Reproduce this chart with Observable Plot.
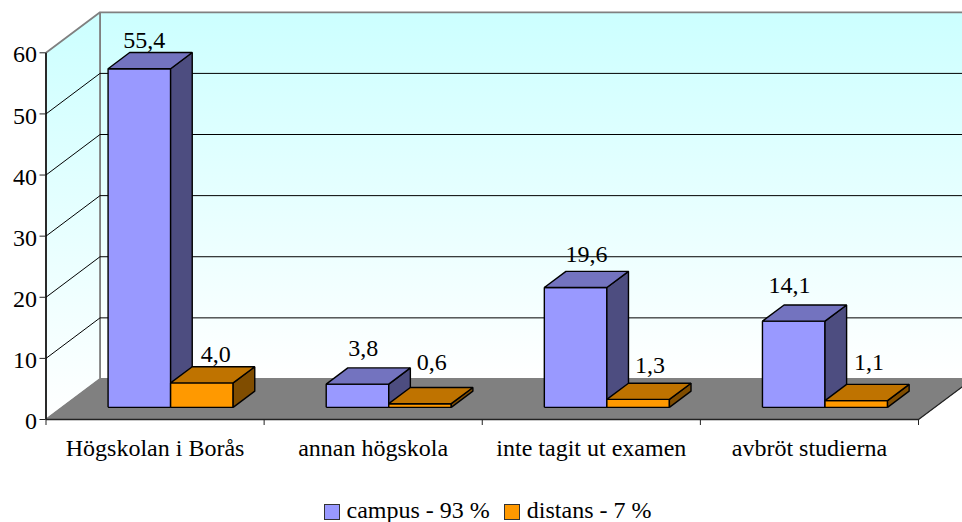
<!DOCTYPE html>
<html>
<head>
<meta charset="utf-8">
<script src="https://cdn.jsdelivr.net/npm/d3@7"></script>
<script src="https://cdn.jsdelivr.net/npm/@observablehq/plot@0.6"></script>
<style>
html,body{margin:0;padding:0;background:#fff;overflow:hidden;width:962px;height:522px}
#legend{height:42px;display:flex;align-items:center;justify-content:center;font:24px "Liberation Serif",serif;color:#000;padding-left:13px;box-sizing:border-box;padding-top:19px}
#legend i{display:inline-block;width:14px;height:14px;border:1.2px solid #333;margin-right:7px;position:relative;top:1px}
#legend span{margin-right:14px;display:flex;align-items:center}
#legend span:last-child{margin-right:0}
</style>
</head>
<body>
<div id="chart"></div>
<div id="legend"></div>
<script>
const categories = ["Högskolan i Borås", "annan högskola", "inte tagit ut examen", "avbröt studierna"];
const campus = [55.4, 3.8, 19.6, 14.1];
const distans = [4.0, 0.6, 1.3, 1.1];
const seriesNames = ["campus - 93 %", "distans - 7 %"];
const yTicks = [0, 10, 20, 30, 40, 50, 60];

// styling
const palette = [
  {front: "#9999ff", top: "#7373bf", side: "#4d4d80"},
  {front: "#ff9900", top: "#bf7300", side: "#804d00"}
];
// oblique projection, in data units: one full depth of the chart box
const depthX = 0.2477, depthY = 6.63;
const px = (c, z) => c + z * depthX;
const py = (v, z) => v + z * depthY;
const barW = 0.2867, gapW = (1 - 2 * barW) / 2 - 0.003, z0 = 0.3, z1 = 0.7;
const maxX = 4.3;

function poly(points, opts) {
  const rows = points.map(([c, v, z]) => ({x: px(c, z), y: py(v, z)}));
  return Plot.line(rows, {x: "x", y: "y", strokeLinejoin: "miter", strokeLinecap: "butt", ...opts});
}
function closed(a) { return [...a, a[0]]; }

function bar(cat, s, value) {
  const l = cat + gapW + s * barW, r = l + barW, col = palette[s];
  const st = {stroke: "#000", strokeWidth: 1.4};
  return [
    poly(closed([[l,0,z0],[r,0,z0],[r,value,z0],[l,value,z0]]), {fill: col.front, ...st}),
    poly(closed([[r,0,z0],[r,0,z1],[r,value,z1],[r,value,z0]]), {fill: col.side, ...st}),
    poly(closed([[l,value,z0],[r,value,z0],[r,value,z1],[l,value,z1]]), {fill: col.top, ...st})
  ];
}

const defs = () => {
  const d = d3.create("svg:defs");
  const g = d.append("linearGradient").attr("id", "wall").attr("x1", 0).attr("x2", 0).attr("y1", 0).attr("y2", 1);
  g.append("stop").attr("offset", 0).attr("stop-color", "#ccffff");
  g.append("stop").attr("offset", 1).attr("stop-color", "#ffffff");
  return d.node();
};

const fmt = v => v.toFixed(1).replace(".", ",");
// hand placement of each value label relative to the bar's top centre [dx, dy] in pixels
const campusNudge = [[-6,-12],[-5,-20],[0,-17],[-15,-20]];
const distansNudge = [[3,-12],[1,-25],[1,-18],[2,-22]];

function label(cat, s, value, nudge) {
  const l = cat + gapW + s * barW, r = l + barW;
  const c = (px(l, z0) + px(r, z1)) / 2;
  return Plot.text([value], {
    x: () => c, y: d => py(d, z1), text: d => fmt(d),
    dx: nudge[0], dy: nudge[1], fontSize: 24, fill: "#000", lineAnchor: "middle", textAnchor: "middle"
  });
}

const barMarks = categories.flatMap((_, i) => [...bar(i, 0, campus[i]), ...bar(i, 1, distans[i])]);
const labelMarks = categories.flatMap((_, i) => [
  label(i, 0, campus[i], campusNudge[i]),
  label(i, 1, distans[i], distansNudge[i])
]);

const chart = Plot.plot({
  width: 962, height: 480,
  marginLeft: 45.5, marginRight: 0, marginTop: 12, marginBottom: 61,
  style: {fontFamily: "'Liberation Serif', serif", background: "#fff", color: "#000"},
  x: {type: "linear", domain: [0, 4], range: [45.5, 918], axis: null},
  y: {type: "linear", domain: [0, 60], range: [419, 52.3], axis: null},
  marks: [
    defs,
    // back and side walls
    poly(closed([[0,0,1],[maxX,0,1],[maxX,60,1],[0,60,1]]), {fill: "url(#wall)", stroke: "#808080", strokeWidth: 1.8}),
    poly(closed([[0,0,0],[0,0,1],[0,60,1],[0,60,0]]), {fill: "url(#wall)", stroke: "#808080", strokeWidth: 1.8}),
    // floor
    poly(closed([[0,0,0],[4,0,0],[4,0,1],[0,0,1]]), {fill: "#808080", stroke: "#808080", strokeWidth: 1}),
    poly([[4,0,0],[4,0,1]], {stroke: "#222", strokeWidth: 1.2}),
    // gridlines
    ...yTicks.filter(v => v > 0 && v < 60).map(v =>
      poly([[0,v,0],[0,v,1],[maxX,v,1]], {stroke: "#000", strokeWidth: 1})),
    // axes
    poly([[0,0,0],[0,60,0]], {stroke: "#000", strokeWidth: 1.4}),
    poly([[0,0,0],[4,0,0]], {stroke: "#222", strokeWidth: 1.6}),
    Plot.axisY({ticks: yTicks, tickSize: 6, text: null, stroke: "#222", label: null}),
    Plot.axisY({ticks: yTicks, tickSize: 0, tickPadding: 9, dy: 2, fontSize: 24, fill: "#000", tickFormat: d => String(d), label: null}),
    Plot.axisX({ticks: [0,1,2,3,4], tickSize: 6, text: null, stroke: "#222", label: null}),
    Plot.axisX({ticks: [0.5,1.5,2.5,3.5], tickSize: 0, tickPadding: 19, fontSize: 24, fill: "#000",
      tickFormat: d => categories[Math.floor(d)], label: null}),
    ...barMarks,
    ...labelMarks
  ]
});
document.getElementById("chart").append(chart);

const legend = document.getElementById("legend");
seriesNames.forEach((n, i) => {
  const s = document.createElement("span");
  const sw = document.createElement("i");
  sw.style.background = palette[i].front;
  s.append(sw, n);
  legend.append(s);
});
</script>
</body>
</html>
